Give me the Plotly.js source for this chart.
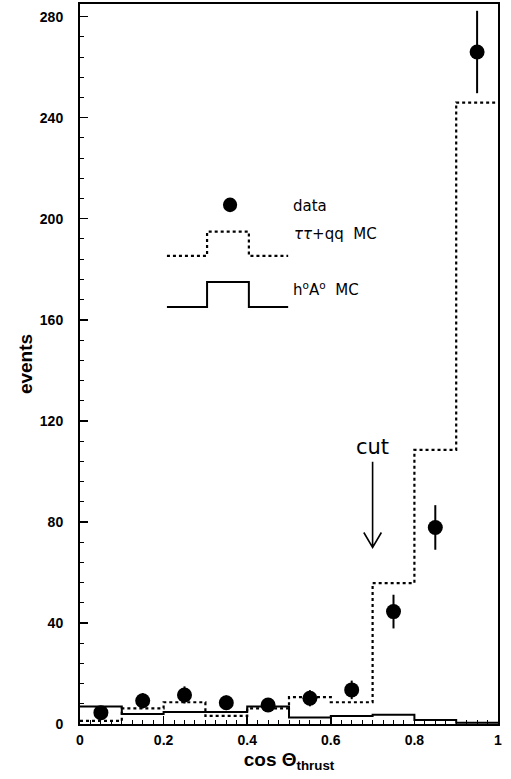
<!DOCTYPE html>
<html>
<head>
<meta charset="utf-8">
<script src="https://cdn.plot.ly/plotly-3.0.1.min.js"></script>
<style>html,body{margin:0;padding:0;background:#fff;}#chart{width:511px;height:779px;}</style>
</head>
<body>
<div id="chart"></div>
<script>
// bin lower edges (cos theta_thrust), bin width 0.1
const binLow = [0.0, 0.1, 0.2, 0.3, 0.4, 0.5, 0.6, 0.7, 0.8, 0.9];
const binWidth = 0.1;
// data (events per bin)
const dataEvents = [4.5, 9.2, 11.5, 8.4, 7.5, 10.2, 13.5, 44.5, 77.8, 266];
// tau tau + qq MC
const bkgMC = [1.2, 6.2, 8.6, 3.2, 6.2, 10.6, 8.6, 55.8, 108.5, 246];
// h0 A0 MC
const sigMC = [6.9, 4.0, 4.75, 4.75, 6.9, 2.6, 3.2, 3.7, 1.6, 0.5];
const yTicks = [0, 40, 80, 120, 160, 200, 240, 280];
const xTicks = [0, 0.2, 0.4, 0.6, 0.8, 1];
const xTickText = ['0', '0.2', '0.4', '0.6', '0.8', '1'];

const centers = binLow.map(v => v + binWidth / 2);
const edges = binLow.concat([binLow[binLow.length - 1] + binWidth]);
const stepY = arr => arr.concat([arr[arr.length - 1]]);
const errs = dataEvents.map(v => Math.sqrt(v));

const font = 'Arial, "Liberation Sans", Helvetica, sans-serif';
const lightFont = '"DejaVu Sans", "Liberation Sans", sans-serif';

const traces = [
  {x: edges, y: stepY(sigMC), mode: 'lines', line: {shape: 'hv', color: '#000', width: 2}, hoverinfo: 'skip'},
  {x: edges, y: stepY(bkgMC), mode: 'lines', line: {shape: 'hv', color: '#000', width: 2.2, dash: 'dot'}, hoverinfo: 'skip'},
  {x: centers, y: dataEvents, mode: 'markers', marker: {color: '#000', size: 15},
   error_y: {type: 'data', array: errs, visible: true, color: '#000', thickness: 2, width: 0}}
];

const layout = {
  width: 511, height: 779,
  margin: {l: 80, r: 13, t: 4, b: 55},
  paper_bgcolor: '#fff', plot_bgcolor: '#fff',
  showlegend: false,
  xaxis: {
    range: [0, 1], tickvals: xTicks, ticktext: xTickText,
    ticks: 'inside', ticklen: 8, tickwidth: 1.5, tickcolor: '#000',
    minor: {ticks: 'inside', dtick: 0.025, ticklen: 4, tickcolor: '#000', tickwidth: 1},
    showline: true, linecolor: '#000', linewidth: 2, mirror: true,
    showgrid: false, zeroline: false,
    tickfont: {family: font, size: 14, color: '#000', weight: 'bold'},
    ticklabelstandoff: 2,
    title: {text: 'cos Θ<sub>thrust</sub>', font: {family: font, size: 19, color: '#000', weight: 'bold'}, standoff: 6}
  },
  yaxis: {
    range: [0, 285], tickvals: yTicks,
    ticks: 'inside', ticklen: 8, tickwidth: 1.5, tickcolor: '#000',
    minor: {ticks: 'inside', dtick: 8, ticklen: 4, tickcolor: '#000', tickwidth: 1},
    showline: true, linecolor: '#000', linewidth: 2, mirror: true,
    showgrid: false, zeroline: false,
    tickfont: {family: font, size: 14, color: '#000', weight: 'bold'},
    ticklabelstandoff: 12,
    title: {text: 'events', font: {family: font, size: 19, color: '#000', weight: 'bold'}, standoff: 2}
  },
  shapes: [
    // legend: data dot
    {type: 'circle', xref: 'x', yref: 'y', x0: 0.342, x1: 0.376, y0: 202.6, y1: 208.4, fillcolor: '#000', line: {width: 0}},
    // legend: dotted step
    {type: 'path', xref: 'x', yref: 'y', path: 'M 0.208,185.3 L 0.304,185.3 L 0.304,194.9 L 0.404,194.9 L 0.404,185.3 L 0.498,185.3',
     line: {color: '#000', width: 2.2, dash: 'dot'}},
    // legend: solid step
    {type: 'path', xref: 'x', yref: 'y', path: 'M 0.208,165.1 L 0.304,165.1 L 0.304,175.0 L 0.404,175.0 L 0.404,165.1 L 0.498,165.1',
     line: {color: '#000', width: 2}},
    // cut arrow
    {type: 'path', xref: 'x', yref: 'y', path: 'M 0.700,103.8 L 0.700,69.9 M 0.679,75.8 L 0.700,69.9 L 0.721,75.8',
     line: {color: '#000', width: 1.6}}
  ],
  annotations: [
    {xref: 'x', yref: 'y', x: 0.505, y: 205.0, xanchor: 'left', yanchor: 'middle', showarrow: false,
     text: 'data', font: {family: lightFont, size: 15, color: '#000'}},
    {xref: 'x', yref: 'y', x: 0.507, y: 194.0, xanchor: 'left', yanchor: 'middle', showarrow: false,
     text: '<i>ττ</i>+qq  MC', font: {family: lightFont, size: 15, color: '#000'}},
    {xref: 'x', yref: 'y', x: 0.505, y: 172.0, xanchor: 'left', yanchor: 'middle', showarrow: false,
     text: 'h<sup>o</sup>A<sup>o</sup>  MC', font: {family: lightFont, size: 15, color: '#000'}},
    {xref: 'x', yref: 'y', x: 0.700, y: 109.5, xanchor: 'center', yanchor: 'middle', showarrow: false,
     text: 'cut', font: {family: lightFont, size: 21, color: '#000'}}
  ]
};

Plotly.newPlot('chart', traces, layout, {staticPlot: true, displayModeBar: false});
</script>
</body>
</html>
